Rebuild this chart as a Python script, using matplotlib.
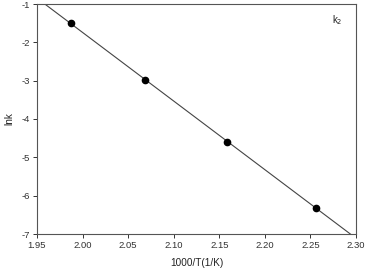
import numpy as np
import matplotlib
matplotlib.use("Agg")
import matplotlib.pyplot as plt

plt.rcParams['font.family'] = ['Liberation Sans', 'DejaVu Sans']
plt.rcParams['axes.unicode_minus'] = False

inv_T = [1.987, 2.069, 2.158, 2.256]
ln_k = [-1.50, -2.98, -4.59, -6.31]

x_ticks = [1.95, 2.00, 2.05, 2.10, 2.15, 2.20, 2.25, 2.30]
y_ticks = [-7, -6, -5, -4, -3, -2, -1]

fig = plt.figure(figsize=(3.65, 2.69), dpi=100)
ax = fig.add_axes([37 / 365, 1 - 234 / 269, 319 / 365, 230 / 269])

# linear fit through the points
slope, icpt = np.polyfit(inv_T, ln_k, 1)
xf = np.linspace(1.90, 2.35, 50)
ax.plot(xf, slope * xf + icpt, color='#444444', lw=0.8)
ax.plot(inv_T, ln_k, 'o', color='black', ms=4.5)

ax.set_xlim(1.95, 2.30)
ax.set_ylim(-7, -1)
ax.set_xticks(x_ticks)
ax.set_xticklabels([f"{v:.2f}" for v in x_ticks])
ax.set_yticks(y_ticks)
ax.tick_params(direction='out', length=3, width=0.7, labelsize=6.8,
               colors='#333333', pad=2)
for s in ax.spines.values():
    s.set_linewidth(0.8)
    s.set_color('#555555')

ax.set_xlabel("1000/T(1/K)", fontsize=7.2, color='#222222', labelpad=6)
ax.set_ylabel("lnk", fontsize=7.2, color='#222222', labelpad=5)
ax.text(0.94, 0.93, "k$_2$", transform=ax.transAxes, fontsize=7,
        color='#222222', ha='center', va='center')

fig.savefig("out.png", dpi=100)
